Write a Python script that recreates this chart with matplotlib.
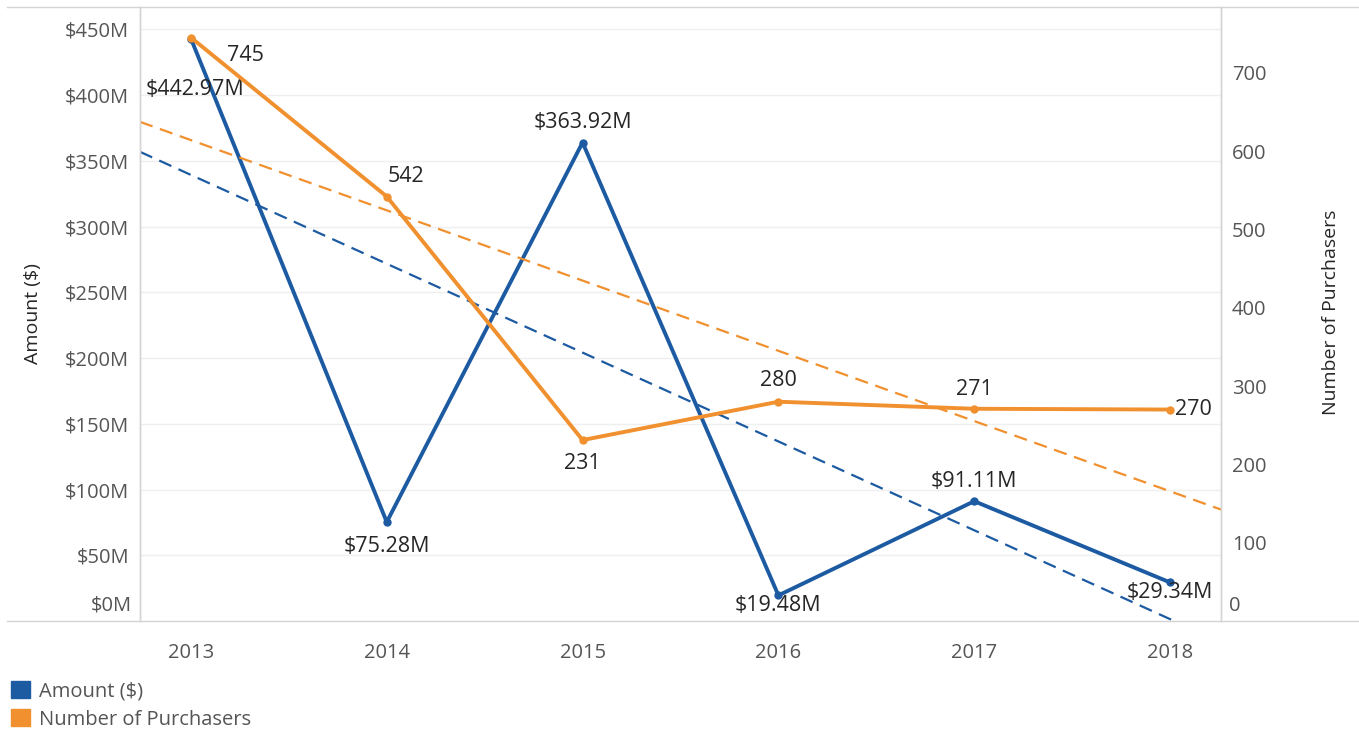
import numpy as np
import matplotlib.pyplot as plt
from matplotlib.lines import Line2D
from matplotlib.patches import Patch
import matplotlib.ticker as mticker

plt.rcParams['font.family'] = ['Open Sans', 'DejaVu Sans']

# ── Données ──────────────────────────────────────────────────────────────────
YEARS = ["2013", "2014", "2015", "2016", "2017", "2018"]
AMOUNT_M = [442.97, 75.28, 363.92, 19.48, 91.11, 29.34]
PURCHASERS = [745, 542, 231, 280, 271, 270]

AMOUNT_TICKS = [0, 50, 100, 150, 200, 250, 300, 350, 400, 450]
PURCH_TICKS = [0, 100, 200, 300, 400, 500, 600, 700]

BLUE = "#1c5aa2"
ORANGE = "#f0902e"
GRID = "#efefef"
BORDER = "#d4d4d4"
TICK_C = "#555555"
LABEL_C = "#262626"

TICK_FS = 14.5
VAL_FS = 15.5

# offsets (px) et alignement des étiquettes de valeur
AMOUNT_OFFS = [(4, -51), (0, -24), (0, 20), (0, -10), (0, 20), (0, -10)]
PURCH_OFFS = [(55, -18), (19, 20), (0, -23), (0, 21), (0, 19), (5, 0)]
PURCH_HA = ["center", "center", "center", "center", "center", "left"]


fig = plt.figure(figsize=(13.59, 7.32), dpi=100)
ax = fig.add_axes([140 / 1359, 1 - 621 / 732, 1081 / 1359, 614 / 732])
ax2 = ax.twinx()

x = np.arange(len(YEARS))
xlim = (-0.26, 5.26)

# grille horizontale (axe gauche)
for t in AMOUNT_TICKS[1:]:
    ax.axhline(t, color=GRID, lw=1, zorder=0)

# tendances linéaires
xt = np.array(xlim)
a1, b1 = np.polyfit(x, AMOUNT_M, 1)
a2, b2 = np.polyfit(x, PURCHASERS, 1)
ax.plot(xt, a1 * xt + b1, color=BLUE, lw=1.6, ls=(0, (6, 3.5)), zorder=2)
ax2.plot(xt, a2 * xt + b2, color=ORANGE, lw=1.6, ls=(0, (6, 3.5)), zorder=2)

ax.plot(x, AMOUNT_M, color=BLUE, lw=2.8, marker="o", ms=5, zorder=3)
ax2.plot(x, PURCHASERS, color=ORANGE, lw=2.8, marker="o", ms=5, zorder=3)

for xi, v, (dx, dy) in zip(x, AMOUNT_M, AMOUNT_OFFS):
    ax.annotate(f"${v:.2f}M", xy=(xi, v), xytext=(dx, dy), textcoords="offset pixels",
                ha="center", va="center", fontsize=VAL_FS, color=LABEL_C, zorder=5)
for xi, v, (dx, dy), ha in zip(x, PURCHASERS, PURCH_OFFS, PURCH_HA):
    ax2.annotate(f"{v}", xy=(xi, v), xytext=(dx, dy), textcoords="offset pixels",
                 ha=ha, va="center", fontsize=VAL_FS, color=LABEL_C, zorder=5)

ax.set_xlim(*xlim)
ax.set_ylim(0, 467)
ax2.set_ylim(0, 784)

ax.set_xticks(x)
ax.set_xticklabels(YEARS)
ax.set_yticks(AMOUNT_TICKS[1:])
ax.yaxis.set_major_formatter(mticker.FuncFormatter(lambda v, p: f"${v:.0f}M"))
ax2.set_yticks(PURCH_TICKS[1:])

ax.tick_params(axis="x", length=0, pad=16, labelsize=TICK_FS, labelcolor=TICK_C)
ax.tick_params(axis="y", length=0, pad=8, labelsize=TICK_FS, labelcolor=TICK_C)
ax2.tick_params(axis="y", length=0, pad=8, labelsize=TICK_FS, labelcolor=TICK_C)

# les étiquettes "0" sont remontées au-dessus de l'axe
ax.annotate("$0M", xy=(0, 0), xycoords=("axes fraction", "data"), xytext=(-8, 15),
            textcoords="offset pixels", ha="right", va="center", fontsize=TICK_FS, color=TICK_C)
ax2.annotate("0", xy=(1, 0), xycoords=("axes fraction", "data"), xytext=(8, 15),
             textcoords="offset pixels", ha="left", va="center", fontsize=TICK_FS, color=TICK_C)

for a in (ax, ax2):
    for s in a.spines.values():
        s.set_color(BORDER)
        s.set_linewidth(1)
    a.spines["top"].set_visible(False)
    a.spines["bottom"].set_visible(False)

# lignes horizontales sur toute la largeur
for yp in (7, 621):
    fig.add_artist(Line2D([7 / 1359, 1], [1 - yp / 732] * 2, color=BORDER, lw=1))

fig.text(33 / 1359, 1 - 314 / 732, "Amount ($)", rotation=90, ha="center", va="center",
         fontsize=14, color=LABEL_C)
fig.text(1331 / 1359, 1 - 312 / 732, "Number of Purchasers", rotation=90, ha="center",
         va="center", fontsize=14, color=LABEL_C)

handles = [Patch(color=BLUE, label="Amount ($)"), Patch(color=ORANGE, label="Number of Purchasers")]
fig.legend(handles=handles, loc="upper left", bbox_to_anchor=(-0.002, 1 - 667 / 732),
           frameon=False, handlelength=0.9, handleheight=0.9, handletextpad=0.45,
           labelspacing=0.4, fontsize=14.5, labelcolor=TICK_C, borderaxespad=0.3)

fig.savefig("out.png", dpi=100)
